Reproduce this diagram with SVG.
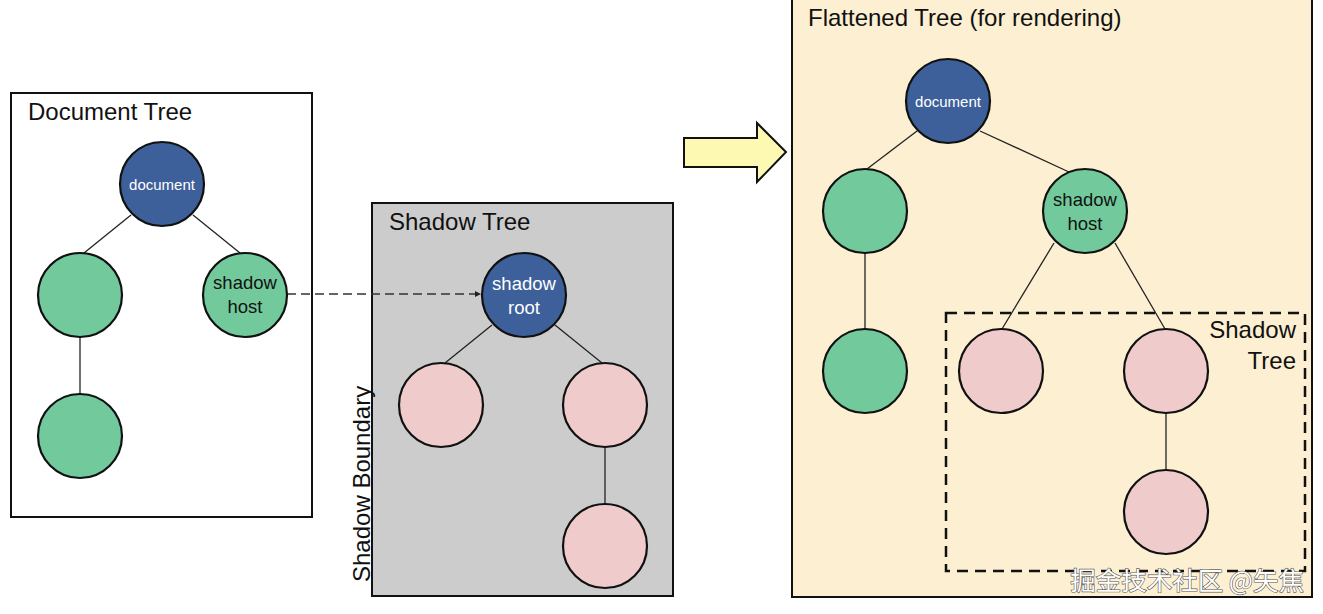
<svg xmlns="http://www.w3.org/2000/svg" width="1323" height="614" viewBox="0 0 1323 614">
<defs>
<style>
.box{stroke:#111;stroke-width:2}
.title{font-family:"Liberation Sans",Arial,sans-serif;font-size:24px;fill:#111}
.n{stroke:#111;stroke-width:2.2}
.blue{fill:#3d5f9a}
.green{fill:#72c99b}
.pink{fill:#f0cbcb}
.wl{font-family:"Liberation Sans",Arial,sans-serif;fill:#fff;text-anchor:middle}
.bl{font-family:"Liberation Sans",Arial,sans-serif;fill:#111;text-anchor:middle;font-size:18.5px}
.edge{stroke:#222;stroke-width:1.3;fill:none}
</style>
<marker id="ah" viewBox="0 0 10 10" refX="10" refY="5" markerWidth="6" markerHeight="6" orient="auto" markerUnits="userSpaceOnUse">
<path d="M0,0 L10,5 L0,10 z" fill="#222"/>
</marker>
</defs>
<rect width="1323" height="614" fill="#fff"/>

<g id="document-tree">
<rect class="box" x="11" y="93" width="301" height="424" fill="#fff"/>
<text class="title" x="28" y="120">Document Tree</text>
</g>
<g id="shadow-tree">
<rect class="box" x="372" y="203" width="301" height="393" fill="#cccccc"/>
<text class="title" x="389" y="230">Shadow Tree</text>
<text class="title" transform="translate(370,582) rotate(-90)">Shadow Boundary</text>
</g>
<g id="flattened-tree">
<rect class="box" x="792" y="-2" width="520" height="599" fill="#fcefd2"/>
<text class="title" x="808" y="26">Flattened Tree (for rendering)</text>
</g>
<g id="flattened-shadow-tree">
<rect x="946" y="313" width="359" height="258" fill="none" stroke="#111" stroke-width="2.5" stroke-dasharray="11 7"/>
<text class="title" x="1296" y="338" text-anchor="end">Shadow</text>
<text class="title" x="1296" y="369" text-anchor="end">Tree</text>
</g>
<g id="big-arrow">
<path d="M684,138 H757 V123 L786,152 L757,182 V167 H684 Z" fill="#fdf8b2" stroke="#111" stroke-width="2"/>
</g>

<g id="connectors">
<line class="edge" x1="131" y1="215" x2="84" y2="253"/>
<line class="edge" x1="193" y1="215" x2="240" y2="253"/>
<line class="edge" x1="80" y1="337" x2="80" y2="394"/>
<line x1="287" y1="294" x2="481" y2="294" stroke="#333" stroke-width="1.5" stroke-dasharray="9 5" marker-end="url(#ah)"/>
<line class="edge" x1="492" y1="325" x2="445" y2="363"/>
<line class="edge" x1="555" y1="325" x2="602" y2="363"/>
<line class="edge" x1="605" y1="447" x2="605" y2="504"/>
<line class="edge" x1="917" y1="131" x2="867" y2="169"/>
<line class="edge" x1="980" y1="131" x2="1069" y2="172"/>
<line class="edge" x1="865" y1="253" x2="865" y2="329"/>
<line class="edge" x1="1054" y1="243" x2="1002" y2="329"/>
<line class="edge" x1="1115" y1="243" x2="1165" y2="329"/>
<line class="edge" x1="1166" y1="413" x2="1166" y2="471"/>
</g>

<g id="doc-document"><circle class="n blue" cx="162" cy="184" r="42"/><text class="wl" x="162" y="190" font-size="15">document</text></g>
<g id="doc-child-left"><circle class="n green" cx="80" cy="295" r="42"/></g>
<g id="doc-shadow-host"><circle class="n green" cx="245" cy="295" r="42"/><text class="bl" x="245" y="289">shadow</text><text class="bl" x="245" y="313">host</text></g>
<g id="doc-grandchild"><circle class="n green" cx="80" cy="436" r="42"/></g>

<g id="st-shadow-root"><circle class="n blue" cx="524" cy="295" r="42"/><text class="wl" x="524" y="290" font-size="18.5">shadow</text><text class="wl" x="524" y="314" font-size="18.5">root</text></g>
<g id="st-left"><circle class="n pink" cx="441" cy="405" r="42"/></g>
<g id="st-right"><circle class="n pink" cx="605" cy="405" r="42"/></g>
<g id="st-bottom"><circle class="n pink" cx="605" cy="546" r="42"/></g>

<g id="ft-document"><circle class="n blue" cx="948" cy="101" r="42"/><text class="wl" x="948" y="107" font-size="15">document</text></g>
<g id="ft-left"><circle class="n green" cx="865" cy="211" r="42"/></g>
<g id="ft-shadow-host"><circle class="n green" cx="1085" cy="211" r="42"/><text class="bl" x="1085" y="206">shadow</text><text class="bl" x="1085" y="230">host</text></g>
<g id="ft-left-bottom"><circle class="n green" cx="865" cy="371" r="42"/></g>
<g id="ft-pink-left"><circle class="n pink" cx="1001" cy="371" r="42"/></g>
<g id="ft-pink-right"><circle class="n pink" cx="1166" cy="371" r="42"/></g>
<g id="ft-pink-bottom"><circle class="n pink" cx="1166" cy="512" r="42"/></g>

<text x="1304" y="590" text-anchor="end" font-family="'Noto Sans CJK SC','Liberation Sans',sans-serif" font-size="25.5" fill="#fff" stroke="#555" stroke-width="1.2" paint-order="stroke">掘金技术社区 @矢焦</text>
</svg>
